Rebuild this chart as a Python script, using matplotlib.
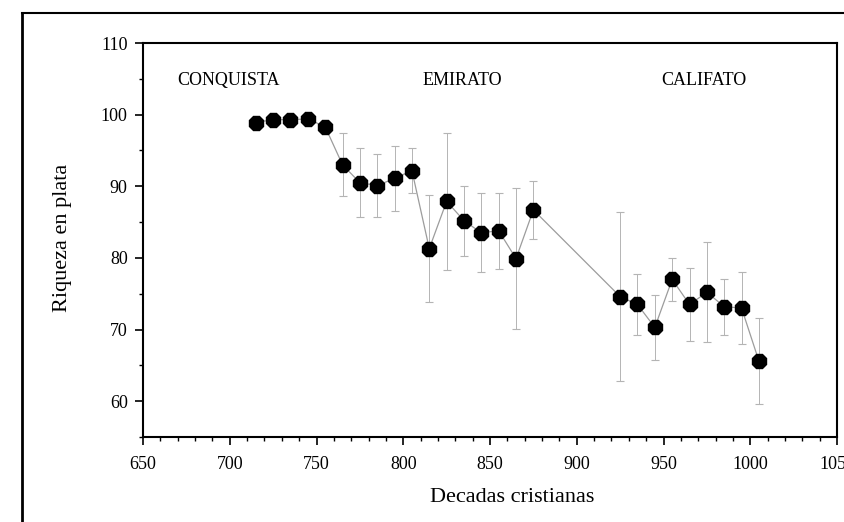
import numpy as np
import matplotlib.pyplot as plt
from matplotlib.lines import Line2D
from matplotlib.ticker import MultipleLocator

# decades (AD) and estimated silver wealth
decadas = [715, 725, 735, 745, 755, 765, 775, 785, 795, 805, 815, 825, 835,
           845, 855, 865, 875, 925, 935, 945, 955, 965, 975, 985, 995, 1005]
riqueza = [98.9, 99.3, 99.3, 99.4, 98.3, 93.0, 90.5, 90.1, 91.1, 92.2, 81.3,
           87.9, 85.2, 83.5, 83.8, 79.9, 86.7, 74.6, 73.5, 70.3, 77.0, 73.5,
           75.2, 73.2, 73.0, 65.6]
error = [0, 0, 0, 0, 0, 4.4, 4.8, 4.4, 4.5, 3.2, 7.5, 9.6, 4.9, 5.5, 5.3,
         9.8, 4.0, 11.8, 4.3, 4.5, 3.0, 5.1, 7.0, 3.9, 5.0, 6.0]

periodos = ["CONQUISTA", "EMIRATO", "CALIFATO"]
periodo_x = [699, 834, 973]

plt.rcParams['font.family'] = ['Liberation Serif', 'DejaVu Serif']

W, H = 845, 522
fig = plt.figure(figsize=(W / 100, H / 100), dpi=100)
ax = fig.add_axes([143 / W, 1 - 437 / H, (837 - 143) / W, (437 - 43) / H])

err = np.array(error)
# scan left the connecting line and the error bars very faint
ax.errorbar(decadas, riqueza, yerr=np.where(err > 0, err, np.nan),
            fmt='-', color='#9c9c9c', lw=0.9,
            ecolor='#b4b4b4', elinewidth=0.7, capsize=3, capthick=0.8,
            marker='8', ms=11, mfc='black', mec='black', zorder=3)

for name, px in zip(periodos, periodo_x):
    ax.text(px, 104.8, name, ha='center', va='center', fontsize=13)

ax.set_xlim(650, 1050)
ax.set_ylim(55, 110)
ax.xaxis.set_major_locator(MultipleLocator(50))
ax.xaxis.set_minor_locator(MultipleLocator(10))
ax.yaxis.set_major_locator(MultipleLocator(10))
ax.yaxis.set_minor_locator(MultipleLocator(5))
ax.set_yticks([60, 70, 80, 90, 100, 110])

ax.tick_params(axis='both', which='major', direction='out', length=6,
               width=1.2, labelsize=13, color='black')
ax.tick_params(axis='both', which='minor', direction='out', length=3,
               width=1.0, color='black')
ax.tick_params(axis='x', which='major', pad=8)
ax.tick_params(axis='y', which='major', pad=5)

for s in ax.spines.values():
    s.set_linewidth(1.5)
    s.set_color('black')

fig.text(63 / W, 1 - 238 / H, "Riqueza en plata", rotation=90,
         ha='center', va='center', fontsize=16)
fig.text(512 / W, 1 - 497 / H, "Decadas cristianas",
         ha='center', va='center', fontsize=16)

# outer frame of the scanned page
fx, fy = 22 / W, 1 - 13 / H
fig.add_artist(Line2D([fx, fx], [0, fy], color='black', lw=2))
fig.add_artist(Line2D([fx, 1], [fy, fy], color='black', lw=1.5))

fig.savefig("out.png", dpi=100)
